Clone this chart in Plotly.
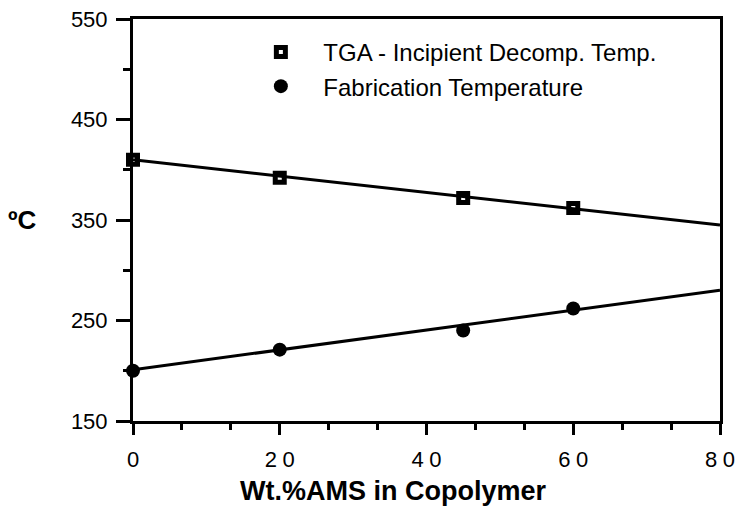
import plotly.graph_objects as go

# Data
wt_ams = [0, 20, 45, 60]
tga_decomp = [410, 392, 372, 362]
fab_temp = [200, 221, 240, 262]
fit_x = [0, 80]
tga_fit = [410, 345]
fab_fit = [201, 280]
x_ticks = [0, 20, 40, 60, 80]
x_ticklabels = ["0", "2\u20050", "4\u20050", "6\u20050", "8\u20050"]
y_ticks = [150, 250, 350, 450, 550]
x_title = "Wt.%AMS in Copolymer"
y_title = "ºC"

font_family = "Liberation Sans, Arial, Helvetica, sans-serif"

fig = go.Figure()
fig.add_trace(go.Scatter(x=fit_x, y=tga_fit, mode="lines",
                         line=dict(color="black", width=3), showlegend=False, hoverinfo="skip"))
fig.add_trace(go.Scatter(x=fit_x, y=fab_fit, mode="lines",
                         line=dict(color="black", width=3), showlegend=False, hoverinfo="skip"))
fig.add_trace(go.Scatter(x=wt_ams, y=tga_decomp, mode="markers",
                         name="TGA - Incipient Decomp. Temp.",
                         marker=dict(symbol="square-open", size=9, color="black",
                                     line=dict(color="black", width=5)),
                         cliponaxis=False))
fig.add_trace(go.Scatter(x=wt_ams, y=fab_temp, mode="markers",
                         name="Fabrication Temperature",
                         marker=dict(symbol="circle", size=14, color="black"),
                         cliponaxis=False))

fig.update_layout(
    width=738, height=506,
    margin=dict(l=133, r=18, t=19, b=85, autoexpand=False),
    paper_bgcolor="white", plot_bgcolor="white",
    font=dict(family=font_family, color="black", size=22),
    legend=dict(x=0.1795, y=0.973, xanchor="left", yanchor="top",
                bgcolor="rgba(0,0,0,0)", font=dict(size=24),
                itemwidth=75, tracegroupgap=0),
    xaxis=dict(range=[0, 80], tickvals=x_ticks, ticktext=x_ticklabels,
               ticks="outside", ticklen=11, tickwidth=3, tickcolor="black",
               showline=True, linecolor="black", linewidth=3, mirror=True,
               showgrid=False, zeroline=False, ticklabelstandoff=6, automargin=False,
               tickfont=dict(size=22, family=font_family),
               minor=dict(dtick=20 / 3, ticks="outside", ticklen=6, tickwidth=2.5,
                          tickcolor="black", showgrid=False)),
    yaxis=dict(range=[150, 550], tickvals=y_ticks,
               ticks="outside", ticklen=14, tickwidth=3, tickcolor="black",
               showline=True, linecolor="black", linewidth=3, mirror=True,
               showgrid=False, zeroline=False, ticklabelstandoff=4, automargin=False,
               tickfont=dict(size=22, family=font_family),
               minor=dict(dtick=50, ticks="outside", ticklen=7, tickwidth=2.5,
                          tickcolor="black", showgrid=False)),
    annotations=[
        dict(text="<b>" + y_title + "</b>", x=-0.217, y=350, xref="paper", yref="y",
             showarrow=False, xanchor="left", yanchor="middle", font=dict(size=26)),
        dict(text="<b>" + x_title + "</b>", x=(393 - 133) / 587, y=0,
             xref="paper", yref="paper", yshift=-87,
             showarrow=False, xanchor="center", yanchor="bottom", font=dict(size=27)),
    ],
)

fig.write_html("out.html")
